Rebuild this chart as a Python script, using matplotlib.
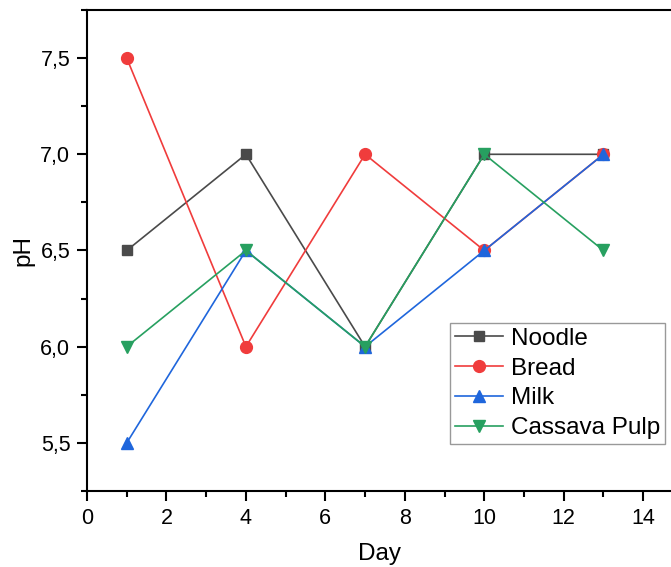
import matplotlib
matplotlib.use("Agg")
import matplotlib.pyplot as plt
from matplotlib.ticker import MultipleLocator

plt.rcParams['font.family'] = ['Liberation Sans', 'DejaVu Sans']

days = [1, 4, 7, 10, 13]
noodle = [6.5, 7.0, 6.0, 7.0, 7.0]
bread = [7.5, 6.0, 7.0, 6.5, 7.0]
milk = [5.5, 6.5, 6.0, 6.5, 7.0]
cassava = [6.0, 6.5, 6.0, 7.0, 6.5]

fig = plt.figure(figsize=(6.71, 5.67), dpi=100)
ax = fig.add_axes([87/671, 76/567, 1 - 87/671, 481/567])

ax.plot(days, noodle, color='#4a4a4a', marker='s', ms=7.5, lw=1.2, label='Noodle')
ax.plot(days, bread, color='#f03c3c', marker='o', ms=8.5, lw=1.2, label='Bread')
ax.plot(days, milk, color='#1f66dc', marker='^', ms=8.5, lw=1.2, label='Milk')
ax.plot(days, cassava, color='#27a060', marker='v', ms=8.5, lw=1.2, label='Cassava Pulp')

ax.set_xlim(0, 14.7)
ax.set_ylim(5.25, 7.75)
ax.xaxis.set_major_locator(MultipleLocator(2))
ax.xaxis.set_minor_locator(MultipleLocator(1))
ax.yaxis.set_major_locator(MultipleLocator(0.5))
ax.yaxis.set_minor_locator(MultipleLocator(0.25))
ax.yaxis.set_major_formatter(plt.FuncFormatter(lambda v, p: f"{v:.1f}".replace('.', ',')))
ax.tick_params(which='major', direction='out', length=7, width=1.5, labelsize=15.5, pad=5)
ax.tick_params(which='minor', direction='out', length=4, width=1.5)
ax.spines['right'].set_visible(False)
for s in ['left', 'bottom', 'top']:
    ax.spines[s].set_linewidth(1.5)

ax.set_xlabel('Day', fontsize=17.5, labelpad=10)
ax.set_ylabel('pH', fontsize=17.5, labelpad=4)

leg = ax.legend(loc='upper left', bbox_to_anchor=(450/671, 1 - 323/567),
                bbox_transform=fig.transFigure, borderaxespad=0, fontsize=17.5,
                fancybox=False, framealpha=1, edgecolor='#999999',
                handlelength=2.0, labelspacing=0.32, borderpad=0.2, handletextpad=0.3)

fig.savefig('out.png', dpi=100)
